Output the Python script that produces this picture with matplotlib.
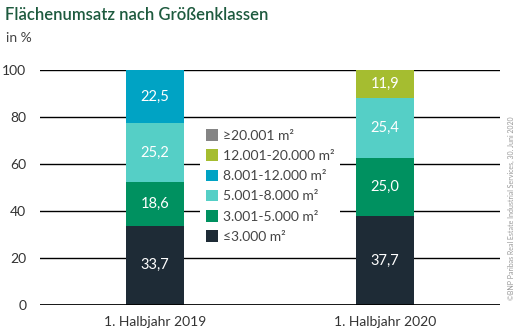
import matplotlib

matplotlib.use("Agg")
import matplotlib.pyplot as plt
from matplotlib.patches import Patch

plt.rcParams["font.family"] = ["Lato", "DejaVu Sans"]

periods = ["1. Halbjahr 2019", "1. Halbjahr 2020"]
classes = [
    "≤3.000 m²",
    "3.001-5.000 m²",
    "5.001-8.000 m²",
    "8.001-12.000 m²",
    "12.001-20.000 m²",
    "≥20.001 m²",
]
colors = ["#1e2b36", "#009160", "#55cfc6", "#00a3c4", "#a5bd30", "#858585"]

share_2019 = [33.7, 18.6, 25.2, 22.5, 0.0, 0.0]
share_2020 = [37.7, 25.0, 25.4, 0.0, 11.9, 0.0]
yticks = [0, 20, 40, 60, 80, 100]


def main():
    fig = plt.figure(figsize=(5.2, 3.3), dpi=100)
    ax = fig.add_axes([0.077, 0.076, 0.885, 0.712])

    for y in yticks[1:]:
        ax.axhline(y, color="black", linewidth=1.0, zorder=1)
    ax.axhline(0, color="black", linewidth=2.0, zorder=4)

    x = [0, 1]
    bottoms = [0.0, 0.0]
    for i, cls in enumerate(classes):
        vals = [share_2019[i], share_2020[i]]
        ax.bar(x, vals, width=0.25, bottom=bottoms, color=colors[i], zorder=3)
        for xi, v, b in zip(x, vals, bottoms):
            if v > 0:
                ax.text(xi, b + v / 2, f"{v:.1f}".replace(".", ","),
                        ha="center", va="center", color="white",
                        fontsize=10.5, zorder=5)
        bottoms = [b + v for b, v in zip(bottoms, vals)]

    ax.set_xlim(-0.5, 1.5)
    ax.set_ylim(0, 100)
    ax.set_yticks(yticks)
    ax.set_yticklabels([str(t) for t in yticks], fontsize=10, color="#333333")
    ax.set_xticks(x)
    ax.set_xticklabels(periods, fontsize=10, color="#333333")
    ax.tick_params(length=0, pad=8)
    ax.tick_params(axis="y", pad=10)
    for s in ax.spines.values():
        s.set_visible(False)

    # legend sits between the two bars, white box masks the gridlines
    handles = [Patch(facecolor=c, edgecolor="none") for c in colors[::-1]]
    leg = ax.legend(handles, classes[::-1], loc="center",
                    bbox_to_anchor=(0.5, 0.506), frameon=True,
                    fontsize=10, handlelength=0.9, handleheight=0.9,
                    handletextpad=0.3, labelspacing=0.55,
                    borderpad=0.4, fancybox=False)
    leg.get_frame().set_edgecolor("none")
    leg.get_frame().set_facecolor("white")
    leg.get_frame().set_alpha(1.0)
    leg.set_zorder(6)
    for t in leg.get_texts():
        t.set_color("#444444")

    fig.text(0.01, 0.955, "Flächenumsatz nach Größenklassen", fontsize=12,
             color="#1d5a3e", fontweight="semibold", va="center")
    fig.text(0.012, 0.885, "in %", fontsize=10, color="#444444", va="center")
    fig.text(0.984, 0.37,
             "©BNP Paribas Real Estate Industrial Services, 30. Juni 2020",
             rotation=90, fontsize=5, color="#999999", ha="center", va="center")

    fig.savefig("out.png", dpi=100)
    plt.close(fig)


if __name__ == "__main__":
    main()
